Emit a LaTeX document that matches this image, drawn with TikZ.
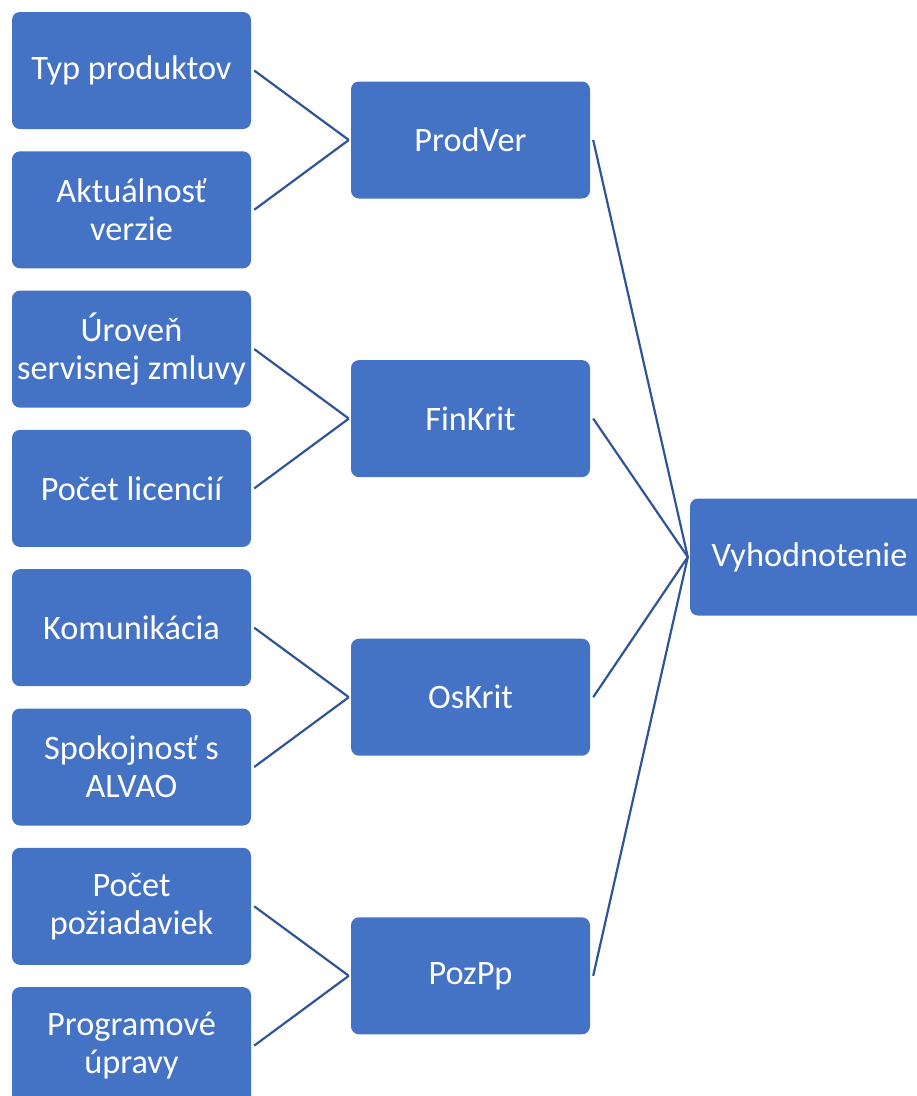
\documentclass[tikz,border=0pt]{standalone}
\usepackage{fontspec}
\setmainfont{Carlito}
\definecolor{boxblue}{HTML}{4472C4}
\definecolor{linkblue}{HTML}{2F5597}
\begin{document}
\begin{tikzpicture}[x=1pt,y=-1pt,
  box/.style={rectangle, rounded corners=8pt, fill=boxblue, draw=none,
    minimum width=239pt, minimum height=117pt, inner sep=0pt,
    text=white, align=center, font=\fontsize{34.3}{38}\selectfont},
  link/.style={draw=linkblue, line width=2.2pt}]
\useasboundingbox (0,0) rectangle (917,1096);
\clip (0,0) rectangle (917,1096);
% leaf criteria
\node[box] (l1) at (131.5,70.5) {Typ produktov};
\node[box] (l2) at (131.5,209.8) {Aktuálnosť\\verzie};
\node[box] (l3) at (131.5,349.1) {Úroveň\\servisnej zmluvy};
\node[box] (l4) at (131.5,488.4) {Počet licencií};
\node[box] (l5) at (131.5,627.7) {Komunikácia};
\node[box] (l6) at (131.5,767.0) {Spokojnosť s\\ALVAO};
\node[box] (l7) at (131.5,906.3) {Počet\\požiadaviek};
\node[box] (l8) at (131.5,1045.6) {Programové\\úpravy};
% grouped criteria
\node[box] (m1) at (470.5,140) {ProdVer};
\node[box] (m2) at (470.5,418.6) {FinKrit};
\node[box] (m3) at (470.5,697.2) {OsKrit};
\node[box] (m4) at (470.5,975.8) {PozPp};
% final evaluation
\node[box] (r) at (809.5,557) {Vyhodnotenie};
% links
\foreach \m/\a/\b in {m1/l1/l2, m2/l3/l4, m3/l5/l6, m4/l7/l8}{
  \draw[link] ([xshift=3pt]\a.east) -- ([xshift=-2pt]\m.west);
  \draw[link] ([xshift=3pt]\b.east) -- ([xshift=-2pt]\m.west);
  \draw[link] ([xshift=3pt]\m.east) -- ([xshift=-2pt]r.west);
}
\end{tikzpicture}
\end{document}
